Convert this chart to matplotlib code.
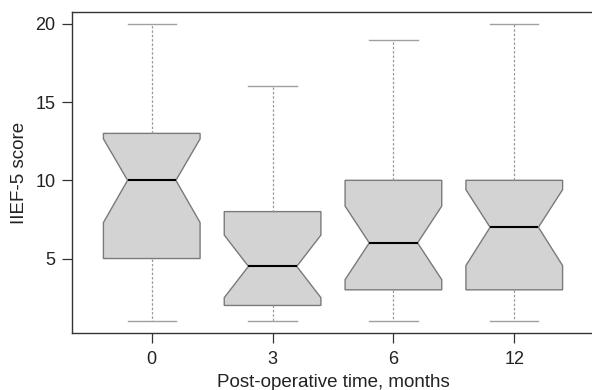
import matplotlib.pyplot as plt

plt.rcParams["font.family"] = ["Liberation Sans", "DejaVu Sans"]

# values
groups = ["0", "3", "6", "12"]
whisker_low = [1, 1, 1, 1]
whisker_high = [20, 16, 19, 20]
q1 = [5, 2, 3, 3]
q3 = [13, 8, 10, 10]
medians = [10, 4.5, 6, 7]
notch_low = [7.3, 2.5, 3.65, 4.55]
notch_high = [12.65, 6.5, 8.35, 9.4]

stats = []
for i, g in enumerate(groups):
    stats.append({
        "label": g,
        "whislo": whisker_low[i],
        "q1": q1[i],
        "med": medians[i],
        "q3": q3[i],
        "whishi": whisker_high[i],
        "cilo": notch_low[i],
        "cihi": notch_high[i],
        "fliers": [],
    })

fig = plt.figure(figsize=(5.92, 3.9), dpi=100)
ax = fig.add_axes([72 / 592, 57 / 390, 522 / 592, 321 / 390])

ax.bxp(
    stats,
    positions=range(1, len(groups) + 1),
    widths=0.8,
    shownotches=True,
    patch_artist=True,
    showfliers=False,
    boxprops=dict(facecolor="#d3d3d3", edgecolor="#7a7a7a", linewidth=1.0),
    medianprops=dict(color="black", linewidth=1.5),
    whiskerprops=dict(color="#9a9a9a", linewidth=0.9, linestyle=(0, (2, 1.5))),
    capprops=dict(color="#a0a0a0", linewidth=1.0),
)

ax.set_xlim(0.34, 4.66)
ax.set_ylim(0.24, 20.76)
ax.set_yticks([5, 10, 15, 20])
ax.set_xticks(range(1, len(groups) + 1))
ax.set_xticklabels(groups)

for s in ax.spines.values():
    s.set_color("#333333")
    s.set_linewidth(1.0)
ax.tick_params(direction="out", length=7, width=0.9, color="#333333",
               labelsize=13, labelcolor="#222222")
ax.tick_params(axis="x", pad=6)
ax.tick_params(axis="y", pad=5)

ax.set_xlabel("Post-operative time, months", fontsize=13.5, color="#222222", labelpad=4)
ax.set_ylabel("IIEF-5 score", fontsize=13.5, color="#222222", labelpad=5)

fig.savefig("out.png", dpi=100)
